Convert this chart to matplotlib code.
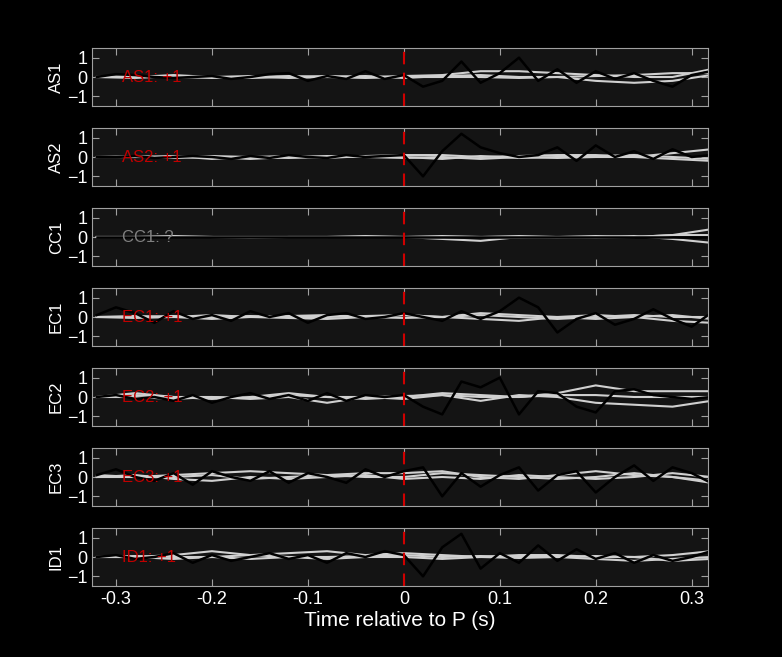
import matplotlib
matplotlib.use("Agg")
import matplotlib.pyplot as plt
import numpy as np

plt.rcParams['font.family'] = ['Liberation Sans', 'DejaVu Sans']

stations = ["AS1", "AS2", "CC1", "EC1", "EC2", "EC3", "ID1"]
labels = ["AS1: +1", "AS2: +1", "CC1: ?", "EC1: +1", "EC2: +1", "EC3: +1", "ID1: +1"]
label_colors = ["#c00000", "#c00000", "#808080", "#c00000", "#c00000", "#c00000", "#c00000"]

t_obs = np.linspace(-0.32, 0.32, 33)
t_syn = np.linspace(-0.32, 0.32, 17)

obs = {
 "AS1": [0.0,0.15,0.1,0.0,-0.05,0.0,0.05,-0.1,0.0,0.15,0.2,-0.2,0.05,-0.1,0.3,-0.1,0.1,-0.5,-0.2,0.8,-0.3,0.2,1.0,-0.2,0.4,-0.3,0.3,-0.1,0.2,-0.2,-0.5,0.1,0.3],
 "AS2": [0.0,0.0,0.05,-0.05,0.0,0.05,0.0,-0.1,0.05,-0.05,0.1,0.0,-0.05,0.1,0.0,0.05,0.1,-1.0,0.3,1.2,0.5,0.2,0.0,0.1,0.5,-0.2,0.6,0.0,0.3,-0.1,0.4,0.0,0.1],
 "CC1": [0.0]*33,
 "EC1": [0.1,0.5,0.2,-0.3,0.3,-0.1,0.1,-0.2,0.3,0.0,0.2,-0.3,0.1,0.2,-0.1,0.0,0.2,0.0,-0.2,0.3,-0.1,0.3,1.0,0.5,-0.8,-0.1,0.2,-0.4,-0.1,0.4,-0.1,-0.5,0.2],
 "EC2": [0.0,0.1,-0.1,0.0,-0.2,0.1,-0.3,0.0,0.2,-0.1,0.1,-0.2,0.2,-0.2,0.1,0.0,0.1,-0.5,-0.9,0.8,0.5,1.0,-0.9,0.3,0.2,-0.5,-0.8,0.3,0.4,0.1,0.0,-0.1,0.0],
 "EC3": [0.1,0.4,0.0,-0.2,0.2,-0.4,0.3,0.0,-0.2,0.3,-0.3,0.2,0.0,-0.3,0.4,0.0,0.3,0.5,-1.0,0.2,-0.5,0.1,0.5,-0.7,0.1,0.3,-0.8,0.0,0.6,-0.2,0.5,0.2,-0.3],
 "ID1": [0.0,0.1,-0.1,0.0,0.2,-0.3,0.1,-0.2,0.0,0.2,-0.1,0.1,-0.3,0.2,0.0,0.3,0.1,-1.0,0.5,1.2,-0.6,0.2,-0.3,0.6,-0.2,0.4,-0.1,0.2,-0.3,0.1,-0.2,0.0,0.3],
}

syn = {
 "AS1": [[0.0,0.0,0.1,0.0,-0.05,0.0,0.05,0.0,0.05,0.1,0.3,0.3,0.2,0.1,0.0,0.0,0.4],
         [0.0,0.05,0.0,-0.05,0.0,0.05,0.0,-0.05,0.0,0.0,0.0,-0.05,0.0,-0.2,-0.3,-0.2,0.1],
         [0.0,-0.05,0.05,0.0,0.05,-0.05,0.0,0.05,-0.05,0.05,0.1,0.0,0.0,0.05,0.1,0.2,0.2]],
 "AS2": [[0.0,0.0,0.05,-0.1,0.0,0.05,-0.05,0.05,0.1,0.1,0.0,0.05,0.1,0.1,0.0,0.2,0.4],
         [0.0,0.05,-0.05,0.0,-0.1,0.0,0.05,0.0,-0.05,0.0,-0.1,0.0,-0.05,0.0,0.0,-0.1,-0.2],
         [0.0,0.0,0.0,0.05,0.0,-0.05,0.0,0.05,0.0,-0.1,0.05,-0.05,0.0,0.05,0.1,0.0,-0.1]],
 "CC1": [[0.0,0.0,0.0,0.0,0.0,0.0,0.0,0.0,0.0,0.05,0.0,-0.05,0.0,0.05,0.0,0.1,0.4],
         [0.0,0.0,0.0,0.0,0.0,0.0,0.0,0.0,0.0,-0.1,-0.2,0.0,-0.05,0.0,0.05,-0.1,-0.3],
         [0.0,0.0,0.05,0.0,-0.05,0.0,0.0,0.05,0.0,0.0,0.0,0.05,0.0,-0.05,0.0,0.1,0.1]],
 "EC1": [[0.0,0.05,0.0,0.1,0.0,0.05,0.1,0.0,0.1,0.0,0.2,0.1,0.0,0.1,0.0,0.1,-0.1],
         [0.0,-0.05,0.0,-0.1,0.0,-0.05,-0.1,0.0,-0.05,0.0,-0.1,-0.2,0.0,-0.1,0.0,-0.2,-0.3],
         [0.0,0.0,0.05,0.0,0.05,0.0,0.0,0.05,0.1,0.0,0.1,0.0,-0.1,0.0,0.1,0.0,0.0]],
 "EC2": [[0.0,0.2,0.0,-0.1,0.0,0.2,0.0,-0.1,0.0,0.2,0.1,0.0,0.2,0.6,0.3,0.3,0.3],
         [0.0,0.0,-0.1,0.0,-0.1,0.0,-0.3,0.0,-0.1,0.1,-0.2,0.1,0.0,-0.3,-0.4,-0.5,-0.2],
         [0.0,0.1,0.0,0.0,-0.05,0.1,0.0,0.0,0.05,0.1,0.0,0.0,0.1,0.1,0.0,0.0,0.0]],
 "EC3": [[0.1,0.0,0.1,0.2,0.3,0.2,0.1,0.2,0.2,0.3,0.0,-0.1,0.1,0.3,0.1,0.0,-0.2],
         [0.0,0.1,-0.1,-0.2,0.0,-0.1,0.0,0.1,-0.1,0.0,-0.1,0.1,0.0,-0.1,0.0,0.2,0.0],
         [0.0,0.0,0.0,0.1,-0.1,0.0,0.1,0.0,0.0,0.2,0.1,0.0,-0.1,0.0,0.2,0.0,-0.3]],
 "ID1": [[0.0,0.0,0.1,0.3,0.1,0.2,0.3,0.1,0.2,0.1,0.0,0.1,0.1,0.0,0.0,0.1,0.3],
         [0.0,0.0,-0.1,0.0,-0.1,0.0,-0.1,0.0,0.0,-0.1,0.0,-0.05,0.0,-0.1,-0.2,-0.1,0.0],
         [0.0,0.05,0.0,0.0,0.1,0.0,0.0,0.05,0.1,0.0,0.05,0.0,0.0,0.05,0.0,-0.2,-0.1]],
}

xticks = [-0.3, -0.2, -0.1, 0, 0.1, 0.2, 0.3]
xticklabels = ["-0.3", "-0.2", "-0.1", "0", "0.1", "0.2", "0.3"]
yticks = [-1, 0, 1]

fig = plt.figure(figsize=(7.82, 6.57), dpi=100, facecolor="black")
W, H = 782, 657
spine_c = "#a0a0a0"
for i, st in enumerate(stations):
    top = 48 + 80 * i
    ax = fig.add_axes([92 / W, 1 - (top + 58) / H, 616 / W, 58 / H])
    ax.set_facecolor("#141414")
    for s in syn[st]:
        ax.plot(t_syn, s, color="#d0d0d0", lw=1.5)
    ax.plot(t_obs, obs[st], color="black", lw=1.8)
    ax.axvline(0, color="#d00000", lw=1.5, ls=(0, (6, 4)))
    ax.text(-0.294, 0, labels[i], color=label_colors[i], fontsize=12, va="center", ha="left")
    ax.set_xlim(-0.325, 0.317)
    ax.set_ylim(-1.5, 1.5)
    ax.set_yticks(yticks)
    ax.set_xticks(xticks)
    ax.tick_params(direction="in", top=True, right=True, colors=spine_c, labelcolor="white", labelsize=13, length=5)
    if i < len(stations) - 1:
        ax.set_xticklabels([])
    else:
        ax.set_xticklabels(xticklabels)
        ax.set_xlabel("Time relative to P (s)", color="white", fontsize=15, labelpad=2)
    ax.set_ylabel(st, color="white", fontsize=12, labelpad=2)
    for sp in ax.spines.values():
        sp.set_color(spine_c)
fig.savefig("out.png", facecolor="black")
